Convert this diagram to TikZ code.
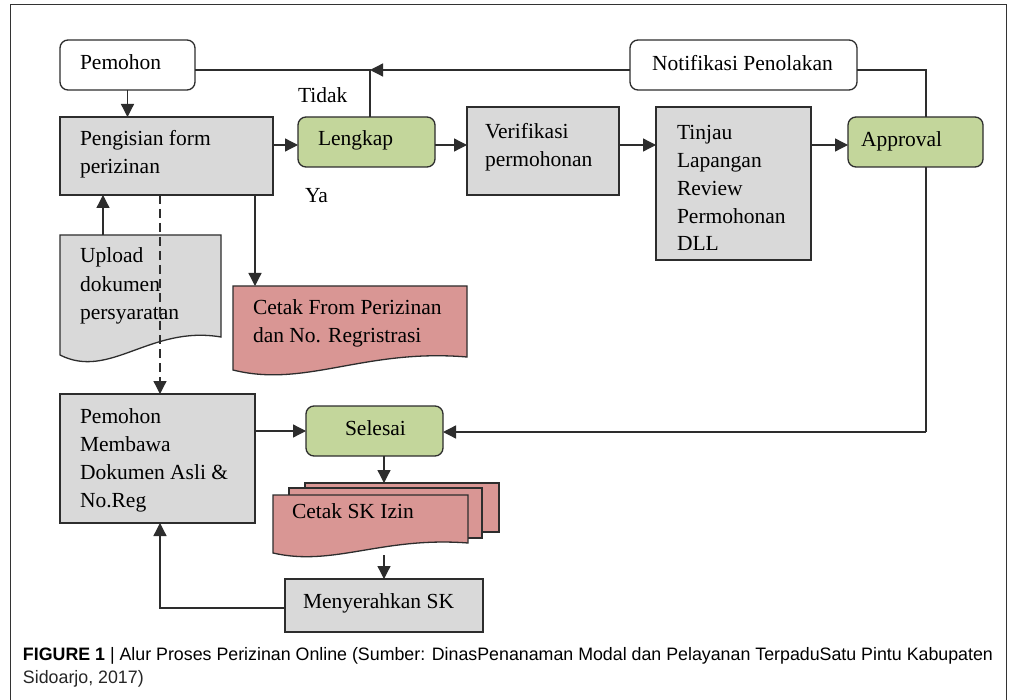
\documentclass[tikz,border=0pt]{standalone}
\usepackage{fontspec}
\setmainfont{Liberation Serif}
\newfontfamily\capfont{Liberation Sans}
\usetikzlibrary{arrows.meta}
\definecolor{boxgray}{RGB}{217,217,217}
\definecolor{boxgreen}{RGB}{195,214,155}
\definecolor{boxred}{RGB}{217,150,148}
\definecolor{edge}{RGB}{45,45,45}
\newsavebox\capbox
\newlength\capw
\newcommand\ml[1]{\begin{tabular}[t]{@{}l@{}}#1\end{tabular}}
\newcommand\docpath[6]{%
 \pgfmathsetmacro\dA{#2+#4}%
 \pgfmathsetmacro\dB{#3+#6}%
 \pgfmathsetmacro\dC{#3+#5}%
 \pgfmathsetmacro\dd{#5-#6}%
 \pgfmathsetmacro\pAx{#2+0.31*#4}\pgfmathsetmacro\pAy{#3+#5+1.4*\dd}%
 \pgfmathsetmacro\pBx{#2+0.56*#4}\pgfmathsetmacro\pBy{#3+#6-0.67*\dd}%
 \path[#1] (#2,#3) -- (\dA,#3) -- (\dA,\dB) .. controls (\pBx,\pBy) and (\pAx,\pAy) .. (#2,\dC) -- cycle;}
\begin{document}
\sbox\capbox{\capfont\fontsize{18}{22}\selectfont\textbf{FIGURE 1} | Alur Proses Perizinan Online (Sumber: DinasPenanaman Modal dan Pelayanan TerpaduSatu Pintu Kabupaten}%
\setlength\capw{\wd\capbox}%
\begin{tikzpicture}[x=1pt,y=-1pt,
 font=\fontsize{21.5}{27.7}\selectfont,
 every node/.style={inner sep=0pt, outer sep=0pt},
 gbox/.style={draw=edge, line width=1.3pt, fill=boxgray, anchor=north west},
 wbox/.style={draw=edge, line width=1.3pt, fill=white, rounded corners=8pt, anchor=north west},
 grbox/.style={draw=edge, line width=1.3pt, fill=boxgreen, rounded corners=8pt, anchor=north west},
 area/.style={anchor=north west},
 docstyle/.style={draw=edge, line width=1.3pt, line join=miter},
 txt/.style={anchor=base west, text=black},
 conn/.style={draw=edge, line width=1.3pt},
 arr/.style={conn, -{Triangle[length=13pt,width=13pt]}},
]
\useasboundingbox (0,0) rectangle (1011,700);
\fill[white] (0,0) rectangle (1011,700);
\draw[black!80, line width=1pt] (10,705) -- (10,5) -- (1006,5) -- (1006,705);

% boxes
\node[wbox, minimum width=135pt, minimum height=50pt] (pemohon) at (60,40) {};
\node[wbox, minimum width=227pt, minimum height=50pt] (notif) at (630,40) {};
\node[gbox, minimum width=213pt, minimum height=78pt] (form) at (60,117) {};
\node[grbox, minimum width=137pt, minimum height=50pt] (lengkap) at (298,117) {};
\node[gbox, minimum width=152pt, minimum height=88pt] (verif) at (467,107) {};
\node[gbox, minimum width=155pt, minimum height=153pt] (tinjau) at (656,107) {};
\node[grbox, minimum width=135pt, minimum height=50pt] (approval) at (848,117) {};
\node[gbox, minimum width=195pt, minimum height=129pt] (membawa) at (60,394) {};
\node[grbox, minimum width=137pt, minimum height=50pt] (selesai) at (306,406) {};
\node[gbox, minimum width=198pt, minimum height=53pt] (menyerah) at (285,579) {};

% document shapes
\docpath{docstyle, fill=boxgray}{60}{235}{161}{120}{102}
\node[area, minimum width=161pt, minimum height=102pt] (upload) at (60,235) {};
\docpath{docstyle, fill=boxred}{233}{286}{234}{84}{71}
\node[area, minimum width=234pt, minimum height=71pt] (cetakform) at (233,286) {};
\draw[docstyle, fill=boxred] (305,483) rectangle (499,532);
\draw[docstyle, fill=boxred] (289,488) rectangle (482,538);
\docpath{docstyle, fill=boxred}{273}{495}{195}{58}{48}
\node[area, minimum width=226pt, minimum height=72pt] (cetaksk) at (273,483) {};

% texts
\node[txt] (t1) at (80,70) {Pemohon};
\node[txt] (t2) at (652,71) {Notifikasi Penolakan};
\node[txt] (t3) at (80,146) {\ml{Pengisian form\\perizinan}};
\node[txt] (t4) at (318,146) {Lengkap};
\node[txt] (t5) at (485,139) {\ml{Verifikasi\\permohonan}};
\node[txt] (t6) at (677,140) {\ml{Tinjau\\Lapangan\\Review\\Permohonan\\DLL}};
\node[txt] (t7) at (861,147) {Approval};
\node[txt] (t8) at (298,103) {Tidak};
\node[txt] (t9) at (305,203) {Ya};
\node[txt] (t10) at (80,263) {\fontsize{21.5}{28.5}\selectfont\ml{Upload\\dokumen\\persyaratan}};
\node[txt] (t11) at (253,315) {\ml{Cetak From Perizinan\\dan No. Regristrasi}};
\node[txt] (t12) at (80,423) {\fontsize{21.5}{28.3}\selectfont\ml{Pemohon\\Membawa\\Dokumen Asli \&\\No.Reg}};
\node[txt] (t13) at (345,435) {Selesai};
\node[txt] (t14) at (292,518) {Cetak SK Izin};
\node[txt] (t15) at (303,608) {Menyerahkan SK};

% helper coordinates
\coordinate (row) at (0,145);
\coordinate (j) at (370,70);
\coordinate (k) at (926,70);
\coordinate (m) at (926,432);
\coordinate (c103) at (103,0);
\coordinate (c160) at (160,0);
\coordinate (c255) at (255,0);
\coordinate (c384) at (384,0);
\coordinate (r608) at (0,608);

% connectors
\draw[arr] (pemohon) -- (pemohon |- form.north);
\draw[arr] (form.east |- row) -- (lengkap.west |- row);
\draw[arr] (lengkap.east |- row) -- (verif.west |- row);
\draw[arr] (verif.east |- row) -- (tinjau.west |- row);
\draw[arr] (tinjau.east |- row) -- (approval.west |- row);
\draw[conn] (pemohon.east |- j) -- (j) -- (j |- lengkap.north);
\draw[arr] (notif.west |- j) -- (j);
\draw[conn] (notif.east |- k) -- (k) -- (k |- approval.north);
\draw[conn] (k |- approval.south) -- (m);
\draw[arr] (m) -- (selesai.east |- m);
\draw[arr] (upload.north -| c103) -- (form.south -| c103);
\draw[arr, dash pattern=on 9pt off 5pt] (form.south -| c160) -- (membawa.north -| c160);
\draw[arr] (form.south -| c255) -- (cetakform.north -| c255);
\draw[arr] (membawa.east |- selesai) -- (selesai.west);
\draw[arr] (selesai.south -| c384) -- (cetaksk.north -| c384);
\draw[arr] (cetaksk.south -| c384) -- (menyerah.north -| c384);
\draw[arr] (menyerah.west |- r608) -- (c160 |- r608) -- (membawa.south -| c160);

% caption
\pgfmathsetmacro\capsx{970/\capw}
\node[anchor=base west, text=black!85] (cap1) at (23,660) {\scalebox{\capsx}[1]{\usebox\capbox}};
\node[anchor=base west, text=black!85] (cap2) at (23,683) {\scalebox{\capsx}[1]{\capfont\fontsize{18}{22}\selectfont Sidoarjo, 2017)}};
\end{tikzpicture}
\end{document}
